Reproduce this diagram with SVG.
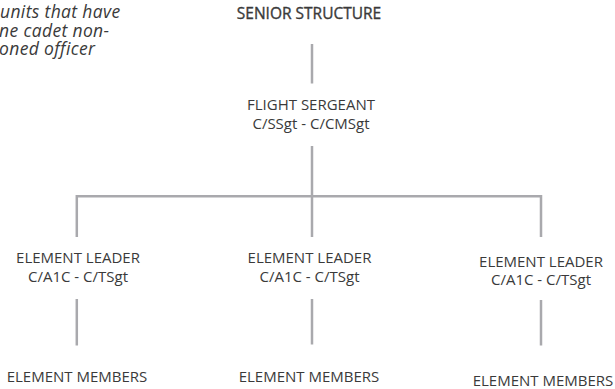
<svg xmlns="http://www.w3.org/2000/svg" width="615" height="389" viewBox="0 0 615 389">
<style>
.t{font-family:"Open Sans","Noto Sans",sans-serif;font-size:15px;fill:#3a3a3a;text-anchor:middle}
.h{font-size:15.5px;stroke:#3a3a3a;stroke-width:0.35}
.n{font-family:"Open Sans","Noto Sans",sans-serif;font-size:17.5px;letter-spacing:0.35px;font-style:italic;fill:#3a3a3a}
.c{stroke:#a9a9ad;stroke-width:2.5;fill:none}
</style>
<rect width="615" height="389" fill="#fff"/>
<g id="note">
<text class="n" x="0" y="18">units that have</text>
<text class="n" x="-1" y="36.5">ne cadet non-</text>
<text class="n" x="-1" y="55">oned officer</text>
</g>
<g id="connectors">
<line class="c" x1="312" y1="44" x2="312" y2="83.5"/>
<line class="c" x1="312" y1="146" x2="312" y2="237"/>
<polyline class="c" points="76.8,237 76.8,196.3 541,196.3 541,237"/>
<line class="c" x1="76.8" y1="299" x2="76.8" y2="345.5"/>
<line class="c" x1="312" y1="299" x2="312" y2="344.5"/>
<line class="c" x1="541" y1="300" x2="541" y2="345.5"/>
</g>
<g id="senior"><text class="t h" x="309" y="19">SENIOR STRUCTURE</text></g>
<g id="flight-sergeant">
<text class="t" x="311" y="110">FLIGHT SERGEANT</text>
<text class="t" x="311" y="129">C/SSgt - C/CMSgt</text>
</g>
<g id="leader-1">
<text class="t" x="78" y="263">ELEMENT LEADER</text>
<text class="t" x="78" y="281.5">C/A1C - C/TSgt</text>
</g>
<g id="leader-2">
<text class="t" x="309.5" y="263">ELEMENT LEADER</text>
<text class="t" x="309.5" y="281.5">C/A1C - C/TSgt</text>
</g>
<g id="leader-3">
<text class="t" x="541" y="266.5">ELEMENT LEADER</text>
<text class="t" x="541" y="285">C/A1C - C/TSgt</text>
</g>
<g id="members-1"><text class="t" x="77" y="381.5">ELEMENT MEMBERS</text></g>
<g id="members-2"><text class="t" x="309" y="381.5">ELEMENT MEMBERS</text></g>
<g id="members-3"><text class="t" x="543" y="385.5">ELEMENT MEMBERS</text></g>
</svg>
